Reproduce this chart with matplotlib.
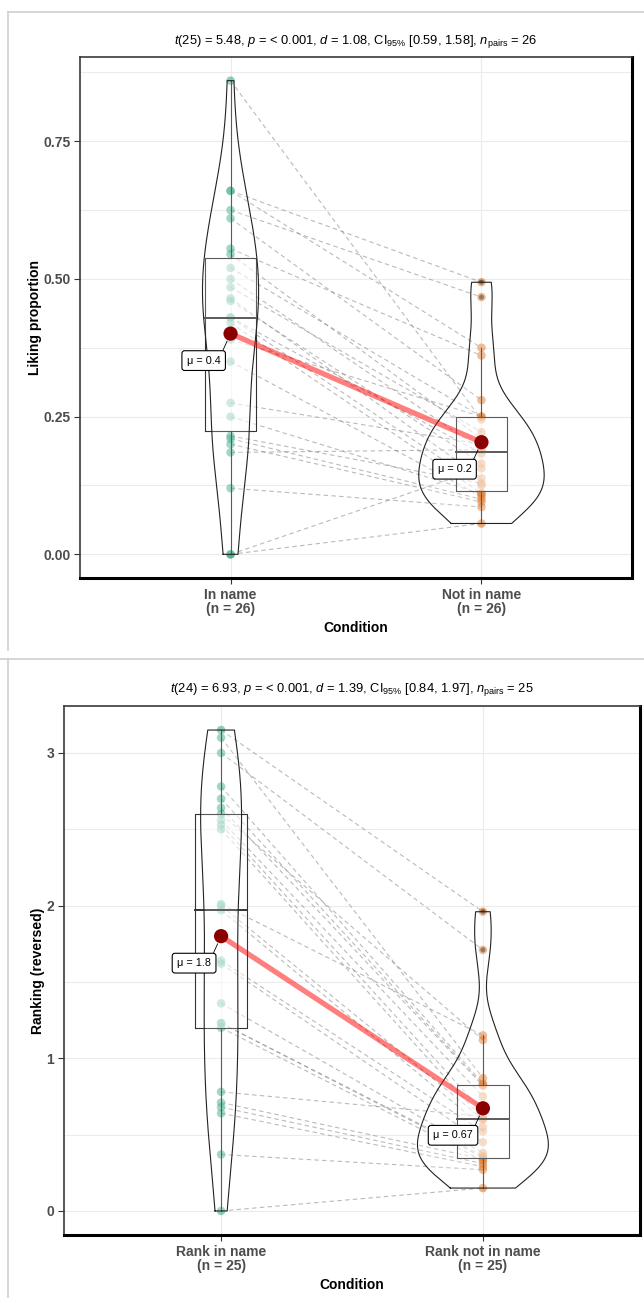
import numpy as np
import matplotlib
matplotlib.use("Agg")
import matplotlib.pyplot as plt
from matplotlib.lines import Line2D

plt.rcParams["font.family"] = ["Liberation Sans", "DejaVu Sans"]
plt.rcParams["mathtext.fontset"] = "custom"
plt.rcParams["mathtext.rm"] = "Liberation Sans"
plt.rcParams["mathtext.it"] = "Liberation Sans:italic"
plt.rcParams["mathtext.bf"] = "Liberation Sans:bold"

# ---- liking proportions, one entry per participant (paired) ----
liking_in_name = [0.86, 0.66, 0.66, 0.625, 0.61, 0.555, 0.545, 0.52, 0.50, 0.485,
                  0.465, 0.46, 0.43, 0.43, 0.42, 0.39, 0.35, 0.275, 0.25, 0.215,
                  0.21, 0.20, 0.185, 0.12, 0.0, 0.0]
liking_not_in_name = [0.245, 0.494, 0.375, 0.467, 0.28, 0.361, 0.21, 0.25, 0.19, 0.222,
                      0.138, 0.165, 0.183, 0.125, 0.111, 0.25, 0.105, 0.20, 0.11, 0.129,
                      0.10, 0.095, 0.19, 0.086, 0.156, 0.056]
liking_groups = ["In name", "Not in name"]
liking_ylabel = "Liking proportion"
liking_yticks = [0.0, 0.25, 0.50, 0.75]
liking_ticklabels = ["0.00", "0.25", "0.50", "0.75"]
liking_stats = (r"$\mathit{t}$(25) = 5.48, $\mathit{p}$ = < 0.001, $\mathit{d}$ = 1.08, "
                r"CI$_{95\%}$ [0.59, 1.58], $\mathit{n}_{\mathrm{pairs}}$ = 26")

# ---- reversed rankings, one entry per participant (paired) ----
ranking_in_name = [0.0, 0.37, 0.64, 0.68, 0.71, 0.78, 1.2, 1.23, 1.23, 1.36,
                   1.62, 1.64, 1.97, 2.0, 2.01, 2.5, 2.53, 2.56, 2.6, 2.64,
                   2.7, 2.78, 3.0, 3.1, 3.15]
ranking_not_in_name = [0.15, 0.27, 0.29, 0.31, 0.34, 0.62, 0.33, 0.35, 0.36, 0.38,
                       0.45, 0.52, 0.55, 0.60, 1.15, 0.60, 0.65, 0.75, 1.12, 0.82,
                       0.825, 0.835, 1.71, 0.87, 1.96]
ranking_groups = ["Rank in name", "Rank not in name"]
ranking_ylabel = "Ranking (reversed)"
ranking_yticks = [0, 1, 2, 3]
ranking_ticklabels = ["0", "1", "2", "3"]
ranking_stats = (r"$\mathit{t}$(24) = 6.93, $\mathit{p}$ = < 0.001, $\mathit{d}$ = 1.39, "
                 r"CI$_{95\%}$ [0.84, 1.97], $\mathit{n}_{\mathrm{pairs}}$ = 25")

W, H = 644, 1298
DPI = 100
GROUP_COLORS = ["#1B9E77", "#D95F02"]
TICK_GRAY = "#4D4D4D"


def bw_nrd0(x):
    x = np.asarray(x, float)
    sd = np.std(x, ddof=1)
    iqr = np.subtract(*np.percentile(x, [75, 25]))
    lo = min(sd, iqr / 1.34) if iqr > 0 else sd
    return 0.9 * lo * len(x) ** (-0.2)


def density(x, grid):
    x = np.asarray(x, float)
    bw = bw_nrd0(x)
    z = (grid[:, None] - x[None, :]) / bw
    return np.exp(-0.5 * z ** 2).sum(axis=1) / (len(x) * bw * np.sqrt(2 * np.pi))


def fmt_mean(m):
    return f"{round(m, 2):g}"


def add_axes_px(left, top, right, bottom):
    return fig.add_axes([left / W, 1 - bottom / H, (right - left) / W, (bottom - top) / H])


def draw_panel(ax, a, b, groups, ylabel, yticks, yticklabels, stats, box_px):
    left, top, right, bottom = box_px
    data = [np.asarray(a, float), np.asarray(b, float)]
    pos = [1, 2]
    n = len(a)

    # paired dashed lines
    for i in range(n):
        ax.plot(pos, [a[i], b[i]], color="#8c8c8c", lw=0.8, ls=(0, (4, 3)),
                alpha=0.6, zorder=2)

    # raw points
    for p, d, c in zip(pos, data, GROUP_COLORS):
        ax.scatter(np.full(len(d), p), d, s=38, color=c, alpha=0.5,
                   edgecolors="none", zorder=3)

    # boxplots
    for p, d in zip(pos, data):
        q1, med, q3 = np.percentile(d, [25, 50, 75])
        iqr = q3 - q1
        lo_w = d[d >= q1 - 1.5 * iqr].min()
        hi_w = d[d <= q3 + 1.5 * iqr].max()
        hw = 0.1
        ax.fill_between([p - hw, p + hw], q1, q3, color="white", alpha=0.5,
                        lw=0, zorder=4)
        ax.plot([p - hw, p + hw, p + hw, p - hw, p - hw], [q1, q1, q3, q3, q1],
                color="#333333", lw=0.8, zorder=4.1)
        ax.plot([p - hw, p + hw], [med, med], color="#333333", lw=1.4, zorder=4.1)
        ax.plot([p, p], [q3, hi_w], color="#333333", lw=0.8, zorder=4.1)
        ax.plot([p, p], [lo_w, q1], color="#333333", lw=0.8, zorder=4.1)
        out = d[(d < lo_w) | (d > hi_w)]
        if len(out):
            ax.scatter(np.full(len(out), p), out, s=14, color="black", alpha=0.45,
                       edgecolors="none", zorder=4.2)

    # violins (area-scaled, trimmed)
    grids, dens = [], []
    for d in data:
        g = np.linspace(d.min(), d.max(), 512)
        grids.append(g)
        dens.append(density(d, g))
    gmax = max(v.max() for v in dens)
    for p, g, v in zip(pos, grids, dens):
        half = v / gmax * 0.25
        ax.fill_betweenx(g, p - half, p + half, color="white", alpha=0.2, lw=0, zorder=5)
        xs = np.concatenate([p - half, (p + half)[::-1], [p - half[0]]])
        ys = np.concatenate([g, g[::-1], [g[0]]])
        ax.plot(xs, ys, color="#222222", lw=0.8, zorder=5.1)

    # means
    means = [d.mean() for d in data]
    ax.plot(pos, means, color="red", alpha=0.5, lw=3.8, solid_capstyle="butt", zorder=6)
    ax.scatter(pos, means, s=105, color="#8B0000", edgecolors="none", zorder=7)
    for p, m in zip(pos, means):
        ax.annotate("\u03bc = " + fmt_mean(m), xy=(p, m), xytext=(-10, -27),
                    textcoords="offset pixels", ha="right", va="center",
                    fontsize=7.8, color="black", zorder=8,
                    bbox=dict(boxstyle="round,pad=0.45,rounding_size=0.25",
                              fc="white", ec="black", lw=0.8),
                    arrowprops=dict(arrowstyle="-", color="black", lw=0.6,
                                    shrinkA=0, shrinkB=6, relpos=(1, 1)))

    # scales
    allv = np.concatenate(data)
    lo, hi = allv.min(), allv.max()
    pad = 0.05 * (hi - lo)
    ax.set_ylim(lo - pad, hi + pad)
    ax.set_xlim(0.4, 2.6)
    ax.set_xticks(pos)
    ax.set_xticklabels([f"{g}\n(n = {len(d)})" for g, d in zip(groups, data)],
                       fontsize=10, fontweight="bold", color=TICK_GRAY, linespacing=1.0)
    ax.set_yticks(yticks)
    ax.set_yticklabels(yticklabels, fontsize=10, fontweight="bold", color=TICK_GRAY)
    step = yticks[1] - yticks[0]
    minors = np.arange(yticks[0] - step / 2, hi + pad, step)
    ax.set_yticks(minors[(minors > lo - pad)], minor=True)
    ax.tick_params(axis="y", which="minor", length=0)
    ax.tick_params(axis="both", which="major", length=4, width=0.8, color="#333333", pad=3)
    ax.grid(which="both", color="#EBEBEB", lw=0.8)
    ax.set_axisbelow(True)
    for s in ["left", "top"]:
        ax.spines[s].set_color("#3a3a3a")
        ax.spines[s].set_linewidth(1.2)
    for s in ["right", "bottom"]:
        ax.spines[s].set_color("black")
        ax.spines[s].set_linewidth(2.2)

    ax.set_xlabel("Condition", fontsize=10, fontweight="bold", labelpad=4)
    ax.set_ylabel(ylabel, fontsize=10, fontweight="bold", labelpad=1)

    cx = (left + right) / 2
    fig.text(cx / W, 1 - (top - 16) / H, stats, ha="center", va="center", fontsize=9.3)


fig = plt.figure(figsize=(W / DPI, H / DPI), dpi=DPI, facecolor="white")

# window frames around the two panels
frame = "#cfcfcf"
fig.add_artist(Line2D([8 / W, 1], [1 - 12 / H, 1 - 12 / H], color=frame, lw=1.2))
fig.add_artist(Line2D([8 / W, 8 / W], [1 - 12 / H, 1 - 650 / H], color=frame, lw=1.2))
fig.add_artist(Line2D([0, 1], [1 - 659 / H, 1 - 659 / H], color=frame, lw=1.2))
fig.add_artist(Line2D([8 / W, 8 / W], [1 - 659 / H, 0], color=frame, lw=1.2))

box1 = (80, 57, 632, 578)
ax1 = add_axes_px(*box1)
draw_panel(ax1, liking_in_name, liking_not_in_name, liking_groups, liking_ylabel,
           liking_yticks, liking_ticklabels, liking_stats, box1)

box2 = (64, 706, 640, 1235)
ax2 = add_axes_px(*box2)
draw_panel(ax2, ranking_in_name, ranking_not_in_name, ranking_groups, ranking_ylabel,
           ranking_yticks, ranking_ticklabels, ranking_stats, box2)

fig.savefig("out.png", dpi=DPI, facecolor="white")
